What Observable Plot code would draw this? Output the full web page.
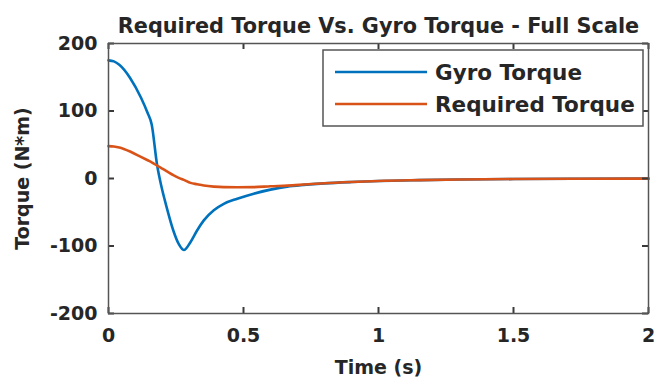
<!DOCTYPE html>
<html>
<head>
<meta charset="utf-8">
<script src="https://cdn.jsdelivr.net/npm/d3@7"></script>
<script src="https://cdn.jsdelivr.net/npm/@observablehq/plot@0.6"></script>
<style>
  html, body { margin: 0; padding: 0; background: #fff; }
</style>
</head>
<body>
<div id="chart"></div>
<script>
// Sample times (s)
const time = [0, 0.02, 0.04, 0.08, 0.12, 0.145, 0.16, 0.18, 0.195, 0.215, 0.24, 0.26, 0.279, 0.304, 0.328, 0.353, 0.39, 0.427, 0.477, 0.538, 0.6, 0.662, 0.723, 0.8, 0.9, 1.0, 1.15, 1.3, 1.5, 1.75, 2.0];
// Gyro torque (N*m)
const gyroTorque = [175, 173.5, 168.5, 149, 120, 97, 80, 20, -10, -42, -77, -97, -106, -94, -77, -62, -47, -37.5, -30, -22.5, -16.5, -12, -9.5, -7.2, -5.2, -3.7, -2.4, -1.5, -0.8, -0.4, -0.2];
// Required torque (N*m)
const requiredTorque = [48, 47.5, 46, 40, 32, 27, 24, 19, 15.5, 11, 5, 1, -2, -6.5, -8.5, -10.4, -12, -12.8, -13, -12.8, -11.5, -10.5, -9, -7, -5.1, -3.6, -2.4, -1.5, -0.8, -0.4, -0.2];

const seriesNames = ["Gyro Torque", "Required Torque"];
const seriesColors = ["#0072BD", "#D95319"];
const xTicks = [0, 0.5, 1, 1.5, 2];
const yTicks = [-200, -100, 0, 100, 200];
const titleText = "Required Torque Vs. Gyro Torque - Full Scale";
const xLabel = "Time (s)";
const yLabel = "Torque (N*m)";

const gyro = time.map((t, i) => ({t, v: gyroTorque[i]}));
const required = time.map((t, i) => ({t, v: requiredTorque[i]}));

const ink = "#262626";
const frameColor = "#555";
const tickLen = 6;

const W = 656, H = 385;
const M = {top: 43, right: 8, bottom: 72, left: 108};
const innerW = W - M.left - M.right;
const innerH = H - M.top - M.bottom;
const tickStyle = {stroke: "#3a3a3a", strokeWidth: 2};

const chart = Plot.plot({
  width: W,
  height: H,
  marginTop: M.top,
  marginLeft: M.left,
  marginRight: M.right,
  marginBottom: M.bottom,
  style: {fontFamily: "'DejaVu Sans', sans-serif", fontSize: "19px", fontWeight: "bold", color: ink, background: "#fff"},
  x: {domain: [0, 2]},
  y: {domain: [-200, 200]},
  marks: [
    Plot.line(gyro, {x: "t", y: "v", stroke: seriesColors[0], strokeWidth: 2.6, curve: "monotone-x"}),
    Plot.line(required, {x: "t", y: "v", stroke: seriesColors[1], strokeWidth: 2.6, curve: "monotone-x"}),
    // tick labels
    Plot.axisX(xTicks, {tickSize: 0, tickPadding: 15, label: null, tickFormat: d => String(d)}),
    Plot.axisY(yTicks, {tickSize: 0, tickPadding: 11, label: null, tickFormat: d => String(d)}),
    // short tick marks pointing into the box on all four sides
    Plot.tickX(xTicks, {x: d => d, insetTop: innerH - tickLen, ...tickStyle}),
    Plot.tickX(xTicks, {x: d => d, insetBottom: innerH - tickLen, ...tickStyle}),
    Plot.tickY(yTicks, {y: d => d, insetRight: innerW - tickLen, ...tickStyle}),
    Plot.tickY(yTicks, {y: d => d, insetLeft: innerW - tickLen, ...tickStyle}),
    Plot.frame({stroke: frameColor, strokeWidth: 1.5}),
    // title and axis labels
    Plot.text([titleText], {text: d => d, frameAnchor: "top", dy: -25, fontSize: 20.8, fontWeight: "bold", fill: ink}),
    Plot.text([xLabel], {text: d => d, frameAnchor: "bottom", dy: 60, fontSize: 19, fontWeight: "bold", fill: ink}),
    Plot.text([yLabel], {text: d => d, frameAnchor: "left", textAnchor: "middle", dx: -86, rotate: -90, fontSize: 19, fontWeight: "bold", fill: ink})
  ]
});

// Legend box in the upper-right corner of the axes
const sx = chart.scale("x"), sy = chart.scale("y");
const frameRight = sx.range[1], frameTop = sy.range[1];
const box = {w: 320, h: 76};
const bx = frameRight - 5 - box.w, by = frameTop + 7;
const legend = d3.select(chart).append("g").attr("class", "legend").attr("text-anchor", "start");
legend.append("rect")
  .attr("x", bx).attr("y", by).attr("width", box.w).attr("height", box.h)
  .attr("fill", "#fff").attr("stroke", frameColor).attr("stroke-width", 1.5);
seriesNames.forEach((name, i) => {
  const yy = by + 22 + i * 32;
  legend.append("line")
    .attr("x1", bx + 12).attr("x2", bx + 104).attr("y1", yy).attr("y2", yy)
    .attr("stroke", seriesColors[i]).attr("stroke-width", 2.6);
  legend.append("text")
    .attr("x", bx + 112).attr("y", yy).attr("dy", "0.35em")
    .attr("fill", ink).attr("font-size", 21.5).attr("font-weight", "bold")
    .text(name);
});

document.getElementById("chart").appendChild(chart);
</script>
</body>
</html>
